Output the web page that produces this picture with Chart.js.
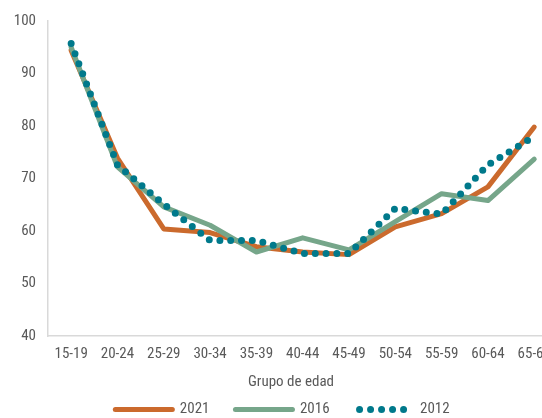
<!DOCTYPE html>
<html>
<head>
<meta charset="utf-8">
<script src="https://cdn.jsdelivr.net/npm/chart.js@4"></script>
<style>
  html, body { margin: 0; padding: 0; overflow: hidden; background: #fff; }
  #wrap { width: 560px; height: 427px; }
</style>
</head>
<body>
<div id="wrap"><canvas id="chartCanvas" width="560" height="427"></canvas></div>
<script>
const ageGroups = ["15-19", "20-24", "25-29", "30-34", "35-39", "40-44", "45-49", "50-54", "55-59", "60-64", "65-69"];
const values2021 = [94.4, 73.9, 60.4, 59.7, 57.0, 56.0, 55.5, 60.8, 63.3, 68.4, 79.8];
const values2016 = [95.0, 72.2, 64.6, 61.1, 56.0, 58.7, 56.4, 61.8, 67.1, 65.8, 73.7];
const values2012 = [95.7, 72.6, 65.1, 58.2, 58.2, 55.7, 55.7, 64.3, 63.2, 72.6, 78.0];
const yMin = 40, yMax = 100, yStep = 10;

const fontFamily = '"Liberation Sans Narrow", "Roboto Condensed", "Liberation Sans", sans-serif';
const textColor = "#595959";
const axisColor = "#d9d9d9";

// x axis caption, drawn under the tick labels
const axisTitle = {
  id: "axisTitle",
  afterDraw(c) {
    const ctx = c.ctx;
    ctx.save();
    ctx.font = "15px " + fontFamily;
    ctx.fillStyle = textColor;
    ctx.textAlign = "center";
    ctx.textBaseline = "middle";
    ctx.fillText("Grupo de edad", 291, c.chartArea.bottom + 46);
    ctx.restore();
  }
};

// legend samples use the dataset line style (dash, caps) instead of the point style
function legendLabels(c) {
  return Chart.defaults.plugins.legend.labels.generateLabels(c).map(item => {
    const ds = c.data.datasets[item.datasetIndex];
    item.pointStyle = "line";
    item.strokeStyle = ds.borderColor;
    item.lineWidth = ds.borderWidth;
    item.lineCap = "round";
    item.lineDash = ds.borderDash ? [0, 11] : [];
    item.lineDashOffset = ds.borderDash ? 7 : 0;
    return item;
  });
}

const ctx = document.getElementById("chartCanvas").getContext("2d");

new Chart(ctx, {
  type: "line",
  data: {
    labels: ageGroups,
    datasets: [
      {
        label: "2021",
        data: values2021,
        borderColor: "#cb6a2d",
        backgroundColor: "#cb6a2d",
        borderWidth: 5,
        borderCapStyle: "round",
        borderJoinStyle: "round",
        pointRadius: 0,
        order: 2
      },
      {
        label: "2016",
        data: values2016,
        borderColor: "#76a68a",
        backgroundColor: "#76a68a",
        borderWidth: 5,
        borderCapStyle: "round",
        borderJoinStyle: "round",
        pointRadius: 0,
        order: 1
      },
      {
        label: "2012",
        data: values2012,
        borderColor: "#00798b",
        backgroundColor: "#00798b",
        borderWidth: 7,
        borderDash: [0, 10.8],
        borderCapStyle: "round",
        borderJoinStyle: "round",
        pointRadius: 0,
        order: 0
      }
    ]
  },
  options: {
    responsive: false,
    animation: false,
    devicePixelRatio: 1,
    layout: { padding: { top: 19, left: 7, right: 2, bottom: 0 } },
    plugins: {
      tooltip: { enabled: false },
      legend: {
        position: "bottom",
        labels: {
          usePointStyle: true,
          pointStyle: "line",
          pointStyleWidth: 57,
          padding: 26,
          color: textColor,
          font: { family: fontFamily, size: 15 },
          generateLabels: legendLabels,
          sort: (a, b) => a.datasetIndex - b.datasetIndex
        }
      }
    },
    scales: {
      x: {
        offset: true,
        grid: { display: false, drawTicks: false },
        border: { display: true, color: axisColor, width: 1.5 },
        ticks: {
          padding: 9,
          color: textColor,
          maxRotation: 0,
          autoSkip: false,
          font: { family: fontFamily, size: 15 }
        },
        afterFit: (scale) => { scale.height = 40; }
      },
      y: {
        min: yMin,
        max: yMax,
        grid: { display: false, drawTicks: false },
        border: { display: true, color: axisColor, width: 1.5 },
        ticks: {
          stepSize: yStep,
          padding: 12,
          color: textColor,
          font: { family: fontFamily, size: 15 }
        },
        afterFit: (scale) => { scale.width = 41; }
      }
    }
  },
  plugins: [axisTitle]
});
</script>
</body>
</html>
